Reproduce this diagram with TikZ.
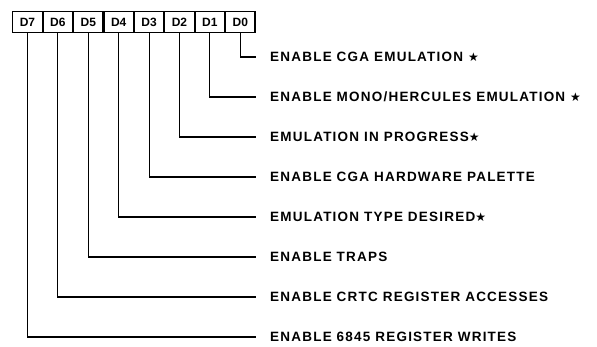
\documentclass[tikz,border=0pt]{standalone}
\usepackage{fontspec}
\setmainfont{Liberation Sans}
\newfontfamily\starfont{DejaVu Sans}
\usetikzlibrary{positioning}
\newcommand{\bitstar}{{\starfont\fontsize{12}{12}\selectfont ★}}

\begin{document}
\begin{tikzpicture}[x=1pt, y=1pt,
    bit/.style={draw, line width=1.1pt, minimum width=29.3pt, minimum height=21pt, inner sep=0pt, font=\bfseries\fontsize{12}{12}\selectfont},
    flag/.style={anchor=west, inner xsep=14pt, font=\bfseries\fontsize{13.5}{14}\selectfont\addfontfeature{LetterSpace=9}},
    wire/.style={draw, line width=1.1pt}
]
\useasboundingbox (0,0) rectangle (597,346);
% register bits
\node[bit] (d7) at (27.5,324) {D7};
\node[bit, right=0pt of d7] (d6) {D6};
\node[bit, right=0pt of d6] (d5) {D5};
\node[bit, right=0pt of d5] (d4) {D4};
\node[bit, right=0pt of d4] (d3) {D3};
\node[bit, right=0pt of d3] (d2) {D2};
\node[bit, right=0pt of d2] (d1) {D1};
\node[bit, right=0pt of d1] (d0) {D0};
% bit meanings
\node[flag] (f0) at (256,289) {ENABLE CGA EMULATION \bitstar};
\node[flag] (f1) at (256,249) {ENABLE MONO/HERCULES EMULATION \bitstar};
\node[flag] (f2) at (256,209) {EMULATION IN PROGRESS\bitstar};
\node[flag] (f3) at (256,169) {ENABLE CGA HARDWARE PALETTE};
\node[flag] (f4) at (256,129) {EMULATION TYPE DESIRED\bitstar};
\node[flag] (f5) at (256,89) {ENABLE TRAPS};
\node[flag] (f6) at (256,49) {ENABLE CRTC REGISTER ACCESSES};
\node[flag] (f7) at (256,9) {ENABLE 6845 REGISTER WRITES};
\draw[wire] (d0.south) |- (f0.west);
\draw[wire] (d1.south) |- (f1.west);
\draw[wire] (d2.south) |- (f2.west);
\draw[wire] (d3.south) |- (f3.west);
\draw[wire] (d4.south) |- (f4.west);
\draw[wire] (d5.south) |- (f5.west);
\draw[wire] (d6.south) |- (f6.west);
\draw[wire] (d7.south) |- (f7.west);
\end{tikzpicture}
\end{document}
